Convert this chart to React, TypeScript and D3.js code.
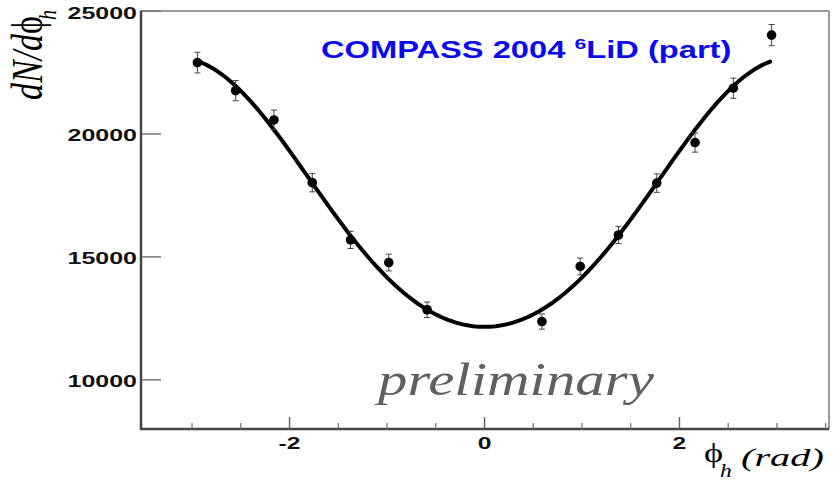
import React from "react";
import * as d3 from "d3";

// Azimuthal distribution of hadrons, COMPASS 2004 6LiD (part)
const phiBins = [-2.945, -2.553, -2.16, -1.767, -1.374, -0.982, -0.589, 0.589, 0.982, 1.374, 1.767, 2.16, 2.553, 2.945];
const counts = [22900, 21760, 20570, 18020, 15690, 14770, 12850, 12370, 14610, 15890, 18000, 19650, 21860, 24020];
const countErrors = [420, 410, 400, 375, 350, 340, 315, 310, 340, 350, 375, 390, 410, 430];

// Fit: A + B cos(phi) + C cos(2 phi)
const fitParams = [17267, -5469, 357];
const fitRange = [-2.93, 2.93];

const yTicks = [10000, 15000, 20000, 25000];
const xMajorTicks = [-2, 0, 2];
const xMinorTicks = [-3, -2.5, -1.5, -1, -0.5, 0.5, 1, 1.5, 2.5, 3, 3.5];

const W = 833;
const H = 483;
const plot = { left: 140, right: 829, top: 11, bottom: 429 };

export default function App() {
  const x = d3.scaleLinear().domain([-3.534, 3.534]).range([plot.left, plot.right]);
  const y = d3.scaleLinear().domain([8000, 25000]).range([plot.bottom, plot.top]);

  const fit = (p: number) => fitParams[0] + fitParams[1] * Math.cos(p) + fitParams[2] * Math.cos(2 * p);
  const samples = d3.range(0, 201).map((i) => fitRange[0] + ((fitRange[1] - fitRange[0]) * i) / 200);
  const curve = d3
    .line<number>()
    .x((p) => x(p))
    .y((p) => y(fit(p)))
    .curve(d3.curveLinear)(samples);

  const sansBold = { fontFamily: "'Liberation Sans', Arial, sans-serif", fontWeight: 700 } as const;
  const serifItalic = { fontFamily: "'Liberation Serif', 'Times New Roman', serif", fontStyle: "italic" } as const;

  return (
    <svg
      width={W}
      height={H}
      style={{ position: "absolute", left: 0, top: 0, background: "#fff" }}
    >
      {/* frame */}
      <line x1={plot.left} y1={plot.top} x2={plot.right} y2={plot.top} stroke="#777" strokeWidth={1.5} />
      <line x1={plot.right} y1={plot.top} x2={plot.right} y2={plot.bottom} stroke="#777" strokeWidth={1.5} />

      {/* y axis */}
      <line x1={plot.left + 1} y1={plot.top} x2={plot.left + 1} y2={plot.bottom + 1} stroke="#444" strokeWidth={2.5} />
      {yTicks.map((t) => (
        <g key={t}>
          <line x1={plot.left + 2} x2={plot.left + 21} y1={y(t)} y2={y(t)} stroke="#777" strokeWidth={1.5} />
          <text
            transform={`translate(${plot.left - 3},${y(t) + 7.5}) scale(1.47,1)`}
            textAnchor="end"
            fontSize={17}
            {...sansBold}
            fill="#111"
          >
            {d3.format("d")(t)}
          </text>
        </g>
      ))}

      {/* x axis */}
      <line x1={plot.left} y1={plot.bottom} x2={plot.right} y2={plot.bottom} stroke="#444" strokeWidth={2.5} />
      {xMinorTicks.map((t) => (
        <line key={t} x1={x(t)} x2={x(t)} y1={plot.bottom} y2={plot.bottom - 6} stroke="#777" strokeWidth={1.3} />
      ))}
      {xMajorTicks.map((t) => (
        <g key={t}>
          <line x1={x(t)} x2={x(t)} y1={plot.bottom} y2={plot.bottom - 12} stroke="#666" strokeWidth={1.5} />
          <text
            transform={`translate(${x(t)},${plot.bottom + 20}) scale(1.45,1)`}
            textAnchor="middle"
            fontSize={17}
            {...sansBold}
            fill="#111"
          >
            {t < 0 ? `-${Math.abs(t)}` : `${t}`}
          </text>
        </g>
      ))}

      {/* fit curve */}
      <path d={curve ?? ""} fill="none" stroke="#000" strokeWidth={4} strokeLinecap="round" />

      {/* data points with error bars */}
      {phiBins.map((p, i) => {
        const cx = x(p);
        const y0 = y(counts[i] - countErrors[i]);
        const y1 = y(counts[i] + countErrors[i]);
        return (
          <g key={p}>
            <line x1={cx} x2={cx} y1={y0} y2={y1} stroke="#444" strokeWidth={1} />
            <line x1={cx - 3} x2={cx + 3} y1={y0} y2={y0} stroke="#444" strokeWidth={1} />
            <line x1={cx - 3} x2={cx + 3} y1={y1} y2={y1} stroke="#444" strokeWidth={1} />
            <circle cx={cx} cy={y(counts[i])} r={4.8} fill="#000" />
          </g>
        );
      })}

      {/* title */}
      <text transform="translate(321,58) scale(1.42,1)" fontSize={23} {...sansBold} fill="#0a0af0">
        COMPASS 2004{" "}
        <tspan fontSize={15} dy={-9}>6</tspan>
        <tspan dy={9}>LiD (part)</tspan>
      </text>

      {/* watermark */}
      <text transform="translate(378,395) scale(1.28,1)" fontSize={46} {...serifItalic} fill="#606060">
        preliminary
      </text>

      {/* axis titles */}
      <text transform="translate(42,100) scale(1.3,1) rotate(-90)" fontSize={34} {...serifItalic} fill="#000">
        dN/d<tspan fontStyle="normal">ϕ</tspan>
      </text>
      <text transform="translate(56,20) scale(1.3,1) rotate(-90)" fontSize={20} {...serifItalic} fill="#000">
        h
      </text>

      <text transform="translate(704,462) scale(1.3,1)" fontSize={28} fontFamily="'Liberation Serif', serif" fill="#000">
        ϕ
      </text>
      <text transform="translate(720,477) scale(1.3,1)" fontSize={18} {...serifItalic} fill="#000">
        h
      </text>
      <text transform="translate(741,466) scale(1.55,1)" fontSize={26} {...serifItalic} fill="#000">
        (rad)
      </text>
    </svg>
  );
}
